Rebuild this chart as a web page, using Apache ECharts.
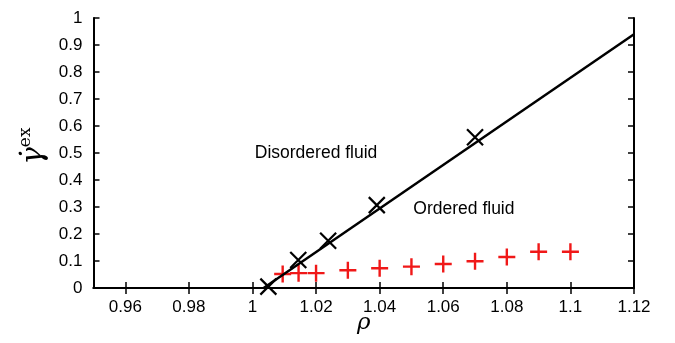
<!DOCTYPE html>
<html>
<head>
<meta charset="utf-8">
<script src="https://cdn.jsdelivr.net/npm/echarts@6/dist/echarts.min.js"></script>
<style>html,body{margin:0;padding:0;background:#fff}#c{width:675px;height:343px}</style>
</head>
<body>
<div id="c"></div>
<script>
// tick values
const xTicks = [0.96, 0.98, 1, 1.02, 1.04, 1.06, 1.08, 1.1, 1.12];
// black crosses (transition points)
const crossRho = [1.005, 1.0144, 1.0238, 1.0391, 1.07];
const crossGam = [0.005, 0.104, 0.175, 0.307, 0.558];
// fitted line endpoints
const fitRho = [1.0035, 1.12];
const fitGam = [0, 0.94];
// red plus points
const plusRho = [1.0095, 1.0145, 1.02, 1.03, 1.04, 1.05, 1.06, 1.07, 1.08, 1.09, 1.1];
const plusGam = [0.052, 0.055, 0.055, 0.066, 0.073, 0.079, 0.089, 0.099, 0.115, 0.134, 0.134];
// annotations
const notes = [
  { text: 'Disordered fluid', rho: 1.020, gam: 0.50 },
  { text: 'Ordered fluid', rho: 1.0665, gam: 0.293 }
];

const zip = (a, b) => a.map((v, i) => [v, b[i]]);
const FONT = 'Liberation Sans';
const chart = echarts.init(document.getElementById('c'), null, { renderer: 'canvas' });

const tickStyle = { show: true, inside: true, length: 6, lineStyle: { color: '#000', width: 1.5 } };
const lineStyle = { show: true, lineStyle: { color: '#000', width: 2 } };

chart.setOption({
  animation: false,
  backgroundColor: '#fff',
  grid: { left: 93.5, right: 41, top: 18, bottom: 55, containLabel: false, outerBoundsMode: 'none' },
  xAxis: [
    {
      type: 'value', min: 0.95, max: 1.12, position: 'bottom',
      axisLine: lineStyle,
      axisTick: Object.assign({ customValues: xTicks }, tickStyle),
      axisLabel: { customValues: xTicks, margin: 11, fontSize: 17, color: '#000', fontFamily: FONT },
      splitLine: { show: false },
      name: 'ρ', nameLocation: 'middle', nameGap: 24, nameMoveOverlap: false,
      nameTextStyle: { fontFamily: 'DejaVu Serif', fontStyle: 'italic', fontSize: 23, color: '#000' }
    },
    {
      type: 'value', min: 0.95, max: 1.12, position: 'top',
      axisLine: lineStyle,
      axisTick: Object.assign({ customValues: xTicks }, tickStyle),
      axisLabel: { show: false },
      splitLine: { show: false }
    }
  ],
  yAxis: [
    {
      type: 'value', min: 0, max: 1, interval: 0.1, position: 'left',
      axisLine: lineStyle,
      axisTick: tickStyle,
      axisLabel: { margin: 11, fontSize: 17, color: '#000', fontFamily: FONT },
      splitLine: { show: false },
      name: '{g|γ̇}{s|ex}', nameLocation: 'middle', nameGap: 42, nameRotate: 90, nameMoveOverlap: false,
      nameTextStyle: {
        color: '#000', padding: [0, 0, 0, 14],
        rich: {
          g: { fontFamily: 'DejaVu Serif', fontStyle: 'italic', fontSize: 29, color: '#000', lineHeight: 34 },
          s: { fontFamily: 'DejaVu Serif', fontSize: 17, color: '#000', verticalAlign: 'top', padding: [0, 0, 3, 0] }
        }
      }
    },
    {
      type: 'value', min: 0, max: 1, interval: 0.1, position: 'right',
      axisLine: lineStyle,
      axisTick: tickStyle,
      axisLabel: { show: false },
      splitLine: { show: false }
    }
  ],
  series: [
    {
      type: 'line', data: zip(fitRho, fitGam), symbol: 'none',
      lineStyle: { color: '#000', width: 2.5 }, z: 3
    },
    {
      type: 'scatter', data: zip(crossRho, crossGam),
      symbol: 'path://M0,0L10,10M10,0L0,10', symbolSize: 16,
      itemStyle: { color: 'rgba(0,0,0,0)', borderColor: '#000', borderWidth: 2.2, opacity: 1 }, z: 4
    },
    {
      type: 'scatter', data: zip(plusRho, plusGam),
      symbol: 'path://M5,0L5,10M0,5L10,5', symbolSize: 17,
      itemStyle: { color: 'rgba(0,0,0,0)', borderColor: '#f01818', borderWidth: 2.4, opacity: 1 }, z: 2
    },
    {
      type: 'scatter', symbolSize: 0, silent: true,
      itemStyle: { opacity: 1 },
      data: notes.map(n => ({ value: [n.rho, n.gam], label: { formatter: n.text } })),
      label: { show: true, position: 'inside', fontSize: 17.5, color: '#000', fontFamily: FONT }
    }
  ]
});
</script>
</body>
</html>
